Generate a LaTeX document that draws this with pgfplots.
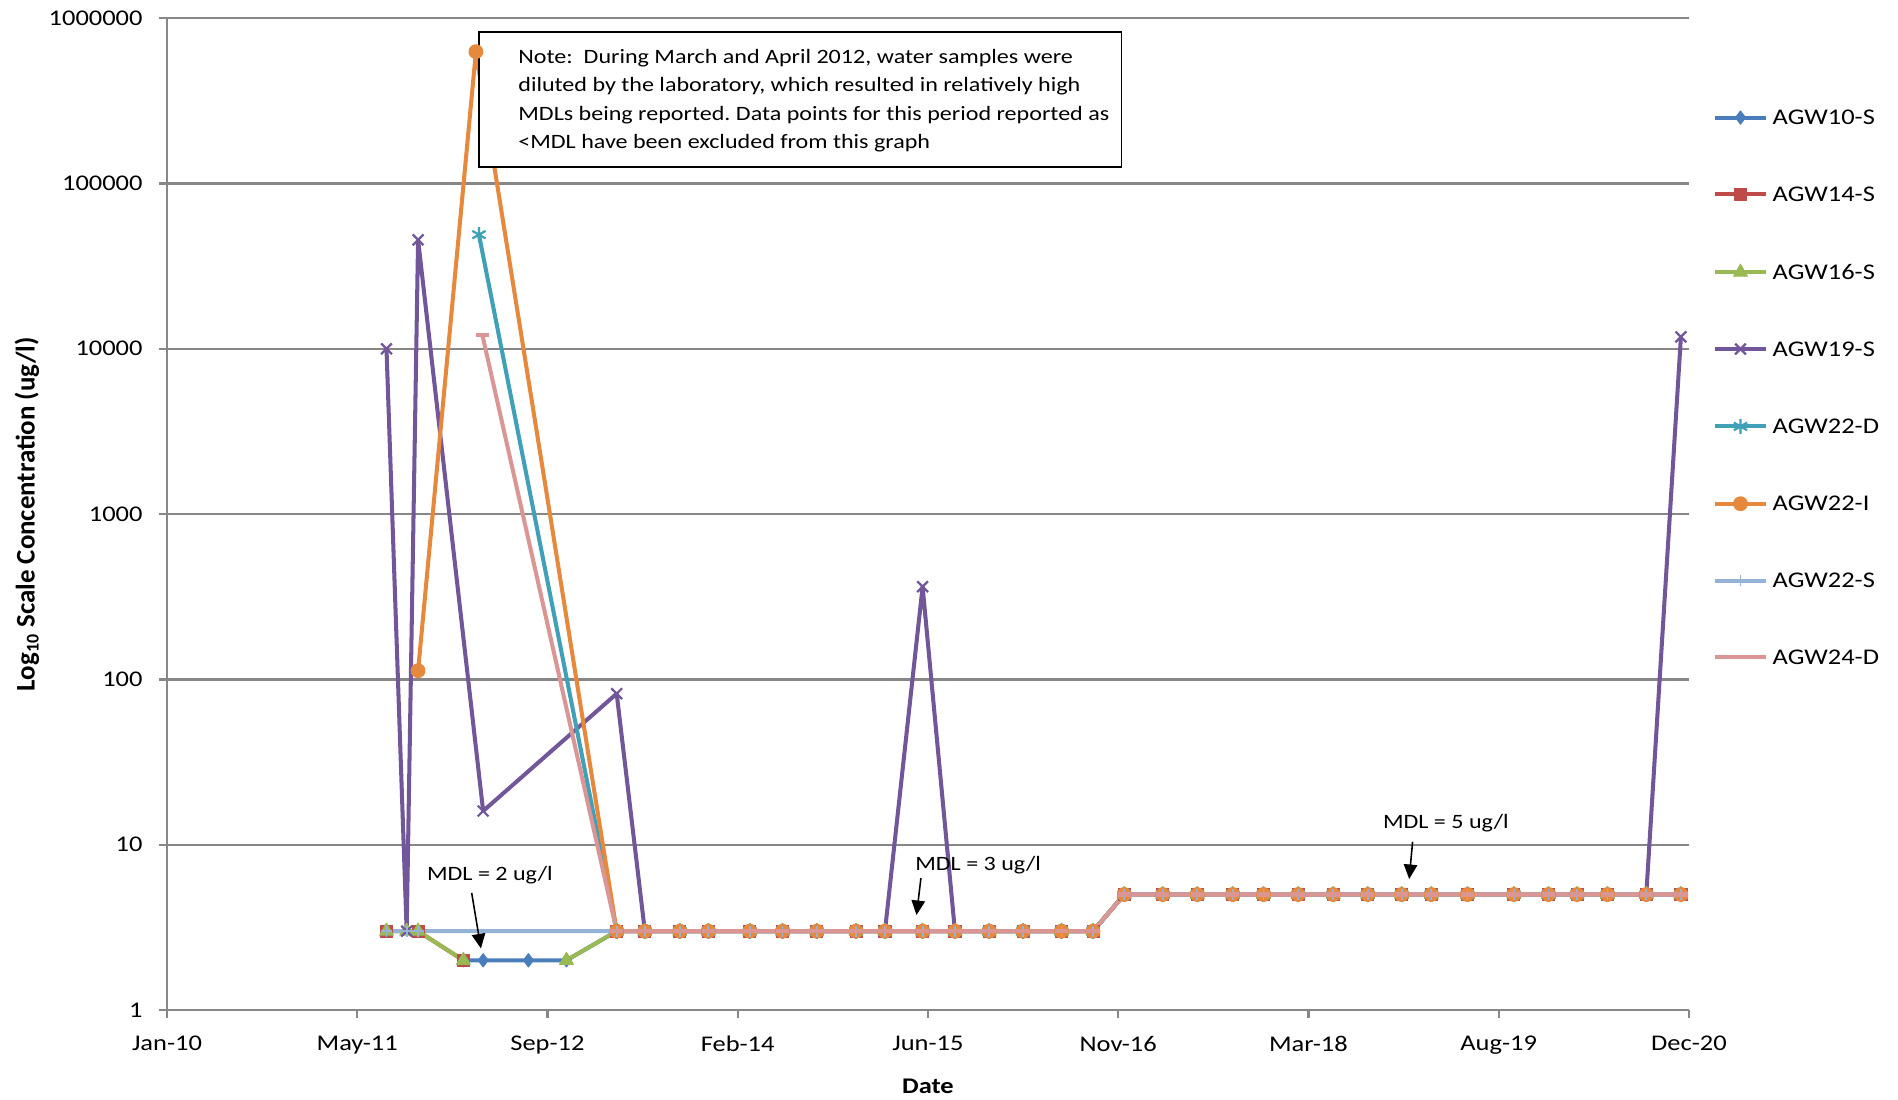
\documentclass[border=0pt]{standalone}
\usepackage{fontspec}
\setmainfont[FakeStretch=1.18]{Carlito}
\newfontfamily\ylabfont{Carlito}
\usepackage{pgfplots}
\pgfplotsset{compat=1.18}
\usetikzlibrary{arrows.meta}
\definecolor{cA}{HTML}{4A7EBB}
\definecolor{cB}{HTML}{BE4B48}
\definecolor{cC}{HTML}{98B954}
\definecolor{cD}{HTML}{72569A}
\definecolor{cE}{HTML}{3FA0B8}
\definecolor{cF}{HTML}{E6893D}
\definecolor{cG}{HTML}{95B3D7}
\definecolor{cH}{HTML}{D99694}
\definecolor{axgray}{HTML}{878787}
\frenchspacing
\begin{document}
\begin{tikzpicture}
\useasboundingbox (0,0) rectangle (846.9pt,490.4pt);
\begin{axis}[
  at={(74.5pt,39.7pt)}, anchor=south west,
  scale only axis, width=679.1pt, height=442.6pt,
  xmin=0, xmax=4000, ymin=1, ymax=1000000, ymode=log,
  xtick={0,500,1000,1500,2000,2500,3000,3500,4000},
  xticklabels={Jan-10,May-11,Sep-12,Feb-14,Jun-15,Nov-16,Mar-18,Aug-19,Dec-20},
  ytick={1,10,100,1000,10000,100000,1000000},
  yticklabels={1,10,100,1000,10000,100000,1000000},
  yminorticks=false,
  axis x line*=bottom, axis y line*=left,
  axis line style={-, draw=axgray, line width=1pt},
  ymajorgrids, grid style={draw=axgray, line width=1pt},
  tick align=outside, major tick length=3.6pt,
  tick style={draw=axgray, line width=1pt},
  ticklabel style={font=\fontsize{10}{12}\selectfont, inner sep=0pt},
  xticklabel style={anchor=north},
  yticklabel style={anchor=east},
  xticklabel shift=7.9pt, yticklabel shift=7.1pt,
  xlabel={Date},
  ylabel={Log\textsubscript{10} Scale Concentration (ug/l)},
  xlabel style={at={(axis description cs:0.5,-0.0765)}, anchor=center, font=\bfseries\fontsize{10}{12}\selectfont},
  ylabel style={at={(axis description cs:-0.092,0.5)}, anchor=center, font=\ylabfont\bfseries\fontsize{12}{14}\selectfont},
  clip=false,
  legend cell align=left,
  legend style={at={(1.016,0.907)}, anchor=north west, draw=none, fill=none,
    inner sep=0pt, outer sep=0pt, row sep=27.9pt, column sep=2.2pt,
    font=\fontsize{10}{12}\selectfont,
    nodes={inner sep=0pt, text height=6.4pt, text depth=0pt}},
  legend image code/.code={\draw[mark repeat=2,mark phase=2,#1] plot coordinates {(0pt,0pt) (11.25pt,0pt) (22.5pt,0pt)};},
  every axis plot/.append style={line width=1.8pt, line join=round},
]
% AGW10-S
\addplot[color=cA, mark=diamond*, mark size=3pt, mark options={solid, fill=cA, line width=0.4pt}] coordinates {
(779,2) (831,2) (950,2) (1050,2) (1182,3)
(1256,3) (1348,3) (1423,3) (1532,3) (1618,3) (1708,3) (1811,3) (1887,3) (1986,3) (2071,3) (2161,3) (2250,3) (2351,3) (2434,3)
(2516,5) (2617,5) (2708,5) (2801,5) (2882,5) (2973,5) (3065,5) (3156,5) (3245,5) (3323,5) (3418,5) (3540,5) (3631,5) (3706,5) (3786,5) (3888,5) (3979,5)};
\addlegendentry{AGW10-S}
% AGW14-S
\addplot[color=cB, mark=square*, mark size=2.7pt, mark options={solid, fill=cB, line width=0.4pt}] coordinates {
(577,3) (660,3) (779,2)};
\addlegendentry{AGW14-S}
\addplot[forget plot, color=cB, mark=square*, mark size=2.7pt, mark options={solid, fill=cB, line width=0.4pt}] coordinates {
(1182,3)
(1256,3) (1348,3) (1423,3) (1532,3) (1618,3) (1708,3) (1811,3) (1887,3) (1986,3) (2071,3) (2161,3) (2250,3) (2351,3) (2434,3)
(2516,5) (2617,5) (2708,5) (2801,5) (2882,5) (2973,5) (3065,5) (3156,5) (3245,5) (3323,5) (3418,5) (3540,5) (3631,5) (3706,5) (3786,5) (3888,5) (3979,5)};
% AGW16-S
\addplot[color=cC, mark=triangle*, mark size=3.6pt, mark options={solid, fill=cC, line width=0.4pt}] coordinates {
(577,3) (630,3) (660,3) (779,2)};
\addlegendentry{AGW16-S}
\addplot[forget plot, color=cC, mark=triangle*, mark size=3.6pt, mark options={solid, fill=cC, line width=0.4pt}] coordinates {
(1050,2) (1182,3)
(1256,3) (1348,3) (1423,3) (1532,3) (1618,3) (1708,3) (1811,3) (1887,3) (1986,3) (2071,3) (2161,3) (2250,3) (2351,3) (2434,3)
(2516,5) (2617,5) (2708,5) (2801,5) (2882,5) (2973,5) (3065,5) (3156,5) (3245,5) (3323,5) (3418,5) (3540,5) (3631,5) (3706,5) (3786,5) (3888,5) (3979,5)};
% AGW19-S
\addplot[color=cD, mark=x, mark size=3.4pt, mark options={solid, line width=1pt}] coordinates {
(577,10000) (630,3) (660,45600) (831,16) (1182,82)
(1256,3) (1348,3) (1423,3) (1532,3) (1618,3) (1708,3) (1811,3) (1887,3) (1986,364) (2071,3) (2161,3) (2250,3) (2351,3) (2434,3)
(2516,5) (2617,5) (2708,5) (2801,5) (2882,5) (2973,5) (3065,5) (3156,5) (3245,5) (3323,5) (3418,5) (3540,5) (3631,5) (3706,5) (3786,5) (3888,5) (3979,11800)};
\addlegendentry{AGW19-S}
% AGW22-D
\addplot[color=cE, mark=asterisk, mark size=3.4pt, mark options={solid, line width=1pt}] coordinates {
(820,49000) (1182,3)
(1256,3) (1348,3) (1423,3) (1532,3) (1618,3) (1708,3) (1811,3) (1887,3) (1986,3) (2071,3) (2161,3) (2250,3) (2351,3) (2434,3)
(2516,5) (2617,5) (2708,5) (2801,5) (2882,5) (2973,5) (3065,5) (3156,5) (3245,5) (3323,5) (3418,5) (3540,5) (3631,5) (3706,5) (3786,5) (3888,5) (3979,5)};
\addlegendentry{AGW22-D}
% AGW22-I
\addplot[color=cF, mark=*, mark size=3.1pt, mark options={solid, fill=cF, line width=0.4pt}] coordinates {
(660,113) (812,627000) (1182,3)
(1256,3) (1348,3) (1423,3) (1532,3) (1618,3) (1708,3) (1811,3) (1887,3) (1986,3) (2071,3) (2161,3) (2250,3) (2351,3) (2434,3)
(2516,5) (2617,5) (2708,5) (2801,5) (2882,5) (2973,5) (3065,5) (3156,5) (3245,5) (3323,5) (3418,5) (3540,5) (3631,5) (3706,5) (3786,5) (3888,5) (3979,5)};
\addlegendentry{AGW22-I}
% AGW22-S
\addplot[color=cG, mark=+, mark size=2.5pt, mark options={solid, line width=0.8pt}] coordinates {
(577,3) (630,3) (660,3) (1182,3)
(1256,3) (1348,3) (1423,3) (1532,3) (1618,3) (1708,3) (1811,3) (1887,3) (1986,3) (2071,3) (2161,3) (2250,3) (2351,3) (2434,3)
(2516,5) (2617,5) (2708,5) (2801,5) (2882,5) (2973,5) (3065,5) (3156,5) (3245,5) (3323,5) (3418,5) (3540,5) (3631,5) (3706,5) (3786,5) (3888,5) (3979,5)};
\addlegendentry{AGW22-S}
% AGW24-D
\addplot[color=cH, mark=-, mark size=3pt, mark options={solid, line width=1.8pt}] coordinates {
(829,12100) (1182,3)
(1256,3) (1348,3) (1423,3) (1532,3) (1618,3) (1708,3) (1811,3) (1887,3) (1986,3) (2071,3) (2161,3) (2250,3) (2351,3) (2434,3)
(2516,5) (2617,5) (2708,5) (2801,5) (2882,5) (2973,5) (3065,5) (3156,5) (3245,5) (3323,5) (3418,5) (3540,5) (3631,5) (3706,5) (3786,5) (3888,5) (3979,5)};
\addlegendentry{AGW24-D}
% Note box
\draw[black, line width=0.6pt, fill=white] (rel axis cs:0.2050,0.9862) rectangle (rel axis cs:0.6271,0.8501);
\begin{scope}[every node/.style={anchor=base west, inner sep=0pt, font=\fontsize{9.1}{11}\selectfont}]
\node at (rel axis cs:0.2306,0.9543) {Note:\ \ During March and April 2012, water samples were};
\node at (rel axis cs:0.2306,0.9257) {diluted by the laboratory, which resulted in relatively high};
\node at (rel axis cs:0.2306,0.8972) {MDLs being reported. Data points for this period reported as};
\node at (rel axis cs:0.2306,0.8686) {<MDL have been excluded from this graph};
\node at (axis cs:682.5,6.11) {MDL = 2 ug/l};
\node at (axis cs:1965.8,6.96) {MDL = 3 ug/l};
\node at (axis cs:3195,12.56) {MDL = 5 ug/l};
\end{scope}
\draw[-{Triangle[length=6.5pt,width=6pt]}, line width=0.7pt] (axis cs:800.8,5.12) -- (axis cs:825.2,2.36);
\draw[-{Triangle[length=6.5pt,width=6pt]}, line width=0.7pt] (axis cs:1981.6,6.29) -- (axis cs:1970,3.755);
\draw[-{Triangle[length=6.5pt,width=6pt]}, line width=0.7pt] (axis cs:3273.8,10.42) -- (axis cs:3264.9,6.20);
\end{axis}
\end{tikzpicture}
\end{document}
